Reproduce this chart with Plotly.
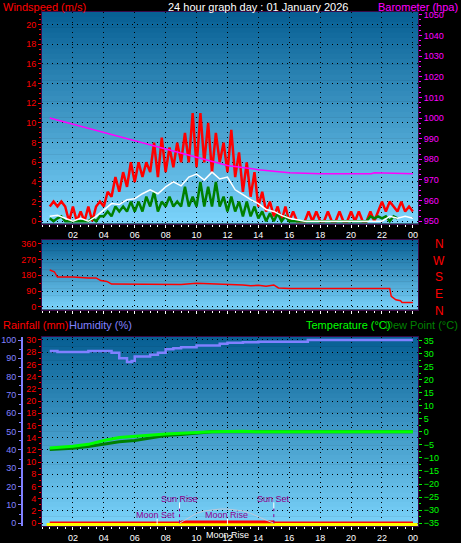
import numpy as np
import plotly.graph_objects as go

W, H = 461, 543

# ---- data ----
hour_ticks = [2, 4, 6, 8, 10, 12, 14, 16, 18, 20, 22, 24]
hour_labels = ["02", "04", "06", "08", "10", "12", "14", "16", "18", "20", "22", "00"]

gust_hours = list(np.arange(0.5, 24.01, 0.25))
gust = [1.5, 2, 1.5, 2, 1.5, 0, 1.5, 0, 1, 0, 1.5, 0, 1.5, 2,
        1.5, 3, 2.5, 4.5, 3, 5, 3.5, 6, 4, 6, 4.5, 6, 5, 8, 4.5, 8.5,
        5, 7.5, 5.5, 8, 6, 9, 6, 11, 5.5, 11, 6, 10, 5, 9, 6, 8,
        5, 9.3, 4.5, 7, 3, 6, 2.5, 5, 1.5, 3, 1, 2, 0.5, 1.5, 0, 1.5,
        0, 1, 0, 0, 0, 1, 0, 1, 0, 0, 1, 0, 0, 1, 0, 0, 1, 0, 1, 0,
        0, 1, 0, 1, 2, 1, 2, 1.5, 1, 2, 1, 1.5, 1]
wind_min = [0.3, 0, 0.3, 0.5, 0, 0, 0, 0, 0, 0, 0, 0.3, 0, 0.5,
            0.5, 1, 0.5, 1.5, 1, 1.5, 1, 2, 1, 2, 1, 2.5, 1.5, 3, 1, 2,
            1.5, 2.5, 1.5, 2, 1.5, 3.5, 1.5, 2.5, 1.5, 4, 1.5, 3.5, 1.5, 4, 1.5, 2.5,
            1, 2.5, 1, 2, 0.5, 2, 0.5, 1.5, 0.3, 1, 0, 0.8, 0, 0.8, 0, 0.5,
            0, 0, 0, 0, 0, 0, 0, 0, 0, 0, 0, 0, 0, 0, 0, 0, 0, 0, 0, 0,
            0, 0.5, 0.3, 0.5, 0.3, 0.5, 0, 0.5, 0.3]
avg_hours = [0.5, 1, 1.5, 2, 2.5, 3, 3.5, 4, 4.5, 5, 5.5, 6, 6.5, 7, 7.5, 8, 8.5, 9, 9.5, 10,
             10.5, 11, 11.5, 12, 12.5, 13, 13.5, 14, 14.5, 15, 15.5, 16,
             17, 18, 19, 20, 21, 22, 22.5, 23, 23.5, 24]
wind_avg = [0.5, 0.6, 0.3, 0, 0.3, 0, 0.5, 1.2, 1.8, 1.7, 2.2, 2.3, 2.8, 3.2, 2.8, 3.5, 4, 3.6, 4.5, 4.8,
            4.2, 5, 4.3, 4.5, 3.2, 2.7, 2.2, 1.8, 1.2, 1, 0.6, 0.3,
            0, 0, 0, 0, 0, 0, 0.5, 0.3, 0.5, 0.3]

baro_hours = [0.5, 2, 4, 6, 8, 10, 12, 14, 16, 18, 21.3, 21.5, 24]
baro = [1000, 997, 993, 989, 985, 981, 977, 975, 973.5, 973, 973, 973.5, 973]

dir_hours = [0.5, 0.8, 1, 2, 3, 3.5, 3.8, 4.2, 4.5, 5, 6, 7, 8, 9, 10, 11, 12, 13, 13.5, 14,
             14.5, 15, 15.3, 16, 20, 22.5, 22.6, 22.9, 23.2, 23.3, 24]
wind_dir = [210, 200, 170, 170, 165, 165, 150, 145, 130, 130, 128, 132, 130, 128, 135, 132, 130, 125, 120, 123,
            118, 125, 108, 105, 105, 105, 60, 40, 35, 25, 25]

hum_hours = [0.5, 1, 2, 3, 4, 4.5, 5, 5.5, 5.8, 6, 6.5, 7, 7.5, 8, 8.5, 9, 10, 11, 11.5, 12,
             13, 14, 15, 16, 17, 17.2, 18, 24]
humidity = [94, 93.5, 93.5, 94, 94, 93, 90, 88, 88.5, 91, 91, 92, 93, 95, 95.5, 96, 97, 97, 98, 98.5,
            98.8, 99, 99, 99, 99, 100, 100, 100]

temp_hours = [0.5, 1, 2, 3, 4, 5, 6, 7, 8, 9, 10, 11, 12, 13, 14, 15, 24]
temperature = [-6.2, -6, -5.5, -4.8, -3.3, -2.2, -1.7, -1.2, -0.8, -0.5, -0.2, 0, 0.1, 0.2, 0, 0, 0]
dew_point = [-6.8, -6.6, -6.3, -5.6, -4.6, -3.8, -3.3, -2.4, -1.4, -1, -0.5, 0, 0, 0, 0, 0, 0]

rain_hours = [0.5, 24]
rainfall = [0.15, 0.15]

sun_hours = [8.9, 9.5, 10, 10.5, 11, 11.5, 12, 12.5, 13, 13.5, 14, 14.5, 15]
sun_arc = [0, 0.9, 1.6, 2.0, 2.2, 2.3, 2.3, 2.2, 2.0, 1.6, 1.0, 0.5, 0]
solar_hours = [8.9, 9, 15, 15.05]
solar = [0, 0.35, 0.35, 0]

sun_rise, sun_set, moon_set, moon_rise = 8.9, 15.0, 7.45, 12.0


def fx(px):
    return px / W


def fy(px):
    return 1 - px / H


P1 = [fy(224), fy(10)]
P2 = [fy(311), fy(241)]
P3 = [fy(530), fy(339)]
XD = [fx(42), fx(418)]
XR = [0, 24.33]
FONT = "Liberation Sans"
GRID = dict(showgrid=True, gridcolor="black", griddash="1px,4px", gridwidth=1)
FRAME = "#3a0a48"

fig = go.Figure()

# gradient backgrounds
shapes = []
N = 40
top_c = np.array([8, 96, 148])
bot_c = np.array([122, 210, 250])
for dom in (P1, P2, P3):
    for i in range(N):
        c = top_c + (bot_c - top_c) * i / (N - 1)
        y1 = dom[1] - (dom[1] - dom[0]) * i / N
        y0 = dom[1] - (dom[1] - dom[0]) * (i + 1) / N
        shapes.append(dict(type="rect", xref="paper", yref="paper", x0=XD[0], x1=XD[1],
                           y0=y0, y1=y1 + 0.001, line_width=0, layer="below",
                           fillcolor="rgb(%d,%d,%d)" % tuple(c)))

# panel 1
fig.add_trace(go.Scatter(x=gust_hours, y=gust, mode="lines", line=dict(color="red", width=2.5),
                         xaxis="x", yaxis="y"))
fig.add_trace(go.Scatter(x=gust_hours, y=wind_min, mode="lines", line=dict(color="green", width=2.5),
                         xaxis="x", yaxis="y"))
fig.add_trace(go.Scatter(x=avg_hours, y=wind_avg, mode="lines", line=dict(color="white", width=1.5),
                         xaxis="x", yaxis="y"))
fig.add_trace(go.Scatter(x=baro_hours, y=baro, mode="lines", line=dict(color="magenta", width=1.5),
                         xaxis="x", yaxis="y2"))
# panel 2
fig.add_trace(go.Scatter(x=dir_hours, y=wind_dir, mode="lines", line=dict(color="red", width=1.5),
                         xaxis="x2", yaxis="y3"))
# panel 3
fig.add_trace(go.Scatter(x=[0.3, 24.3], y=[-0.3, -0.3], mode="lines",
                         line=dict(color="yellow", width=4), xaxis="x3", yaxis="y5"))
fig.add_trace(go.Scatter(x=solar_hours, y=solar, fill="tozeroy", mode="lines", fillcolor="red",
                         line=dict(color="red", width=1), xaxis="x3", yaxis="y5"))
fig.add_trace(go.Scatter(x=rain_hours, y=rainfall, mode="lines", line=dict(color="red", width=1.5),
                         xaxis="x3", yaxis="y5"))
fig.add_trace(go.Scatter(x=sun_hours, y=sun_arc, mode="lines", line=dict(color="#c0c8d8", width=1),
                         xaxis="x3", yaxis="y5"))
fig.add_trace(go.Scatter(x=hum_hours, y=humidity, mode="lines", line=dict(color="#8080ff", width=2.5, shape="hv"),
                         xaxis="x3", yaxis="y4"))
fig.add_trace(go.Scatter(x=temp_hours, y=dew_point, mode="lines", line=dict(color="#008000", width=3),
                         xaxis="x3", yaxis="y6"))
fig.add_trace(go.Scatter(x=temp_hours, y=temperature, mode="lines", line=dict(color="#00ff00", width=3),
                         xaxis="x3", yaxis="y6"))

# sun/moon markers
for h in (sun_rise, sun_set):
    shapes.append(dict(type="line", xref="x3", yref="y5", x0=h, x1=h, y0=0, y1=2.4,
                       line=dict(color="#900090", width=1, dash="dot")))
    shapes.append(dict(type="line", xref="x3", yref="y5", x0=h, x1=h, y0=2.4, y1=3.4,
                       line=dict(color="white", width=1)))
for h in (moon_set, moon_rise):
    shapes.append(dict(type="line", xref="x3", yref="y5", x0=h, x1=h, y0=-0.2, y1=0.7,
                       line=dict(color="white", width=1)))

tickfont = dict(family=FONT, size=9, color="white")
xcommon = dict(range=XR, domain=XD, tickvals=hour_ticks, ticktext=hour_labels, ticks="outside",
               ticklen=3, tickcolor="white", tickfont=tickfont, showline=True, linecolor=FRAME,
               mirror=True, zeroline=False, minor=dict(dtick=0.5, ticks="outside", ticklen=2, tickcolor="white"),
               **GRID)

ann = []


def text(x, y, s, color, size=11, xa="left", xref="paper", yref="paper"):
    ann.append(dict(x=x, y=y, xref=xref, yref=yref, text=s, showarrow=False, xanchor=xa,
                    yanchor="middle", font=dict(family=FONT, size=size, color=color)))


text(fx(1), fy(5), "Windspeed (m/s)", "red")
text(fx(258), fy(5), "24 hour graph day : 01 January 2026", "white", xa="center")
text(fx(460), fy(5), "Barometer (hpa)", "magenta", xa="right")
for lab, py in zip(["N", "W", "S", "E", "N"], [245, 262, 278, 295, 312]):
    text(fx(439), fy(py), lab, "red", size=12, xa="center")
text(fx(1), fy(327), "Rainfall (mm)", "red")
text(fx(67), fy(327), "Humidity (%)", "#8080ff")
text(fx(392), fy(327), "Temperature (°C)", "#00ff00", xa="right")
text(fx(460), fy(327), "Dew Point (°C)", "#008000", xa="right")
text(sun_rise, 4.0, "Sun Rise", "#900090", size=9, xa="center", xref="x3", yref="y5")
text(sun_set, 4.0, "Sun Set", "#900090", size=9, xa="center", xref="x3", yref="y5")
text(moon_set - 0.1, 1.3, "Moon Set", "#900090", size=9, xa="center", xref="x3", yref="y5")
text(moon_rise - 0.05, 1.3, "Moon Rise", "#900090", size=9, xa="center", xref="x3", yref="y5")
text(fx(227), fy(539), "Moon Rise", "white", size=9, xa="center")

fig.update_layout(
    width=W, height=H, margin=dict(l=0, r=0, t=0, b=0),
    paper_bgcolor="black", plot_bgcolor="rgba(0,0,0,0)", showlegend=False,
    shapes=shapes, annotations=ann,
    xaxis=dict(anchor="y", **xcommon),
    xaxis2=dict(anchor="y3", **{**xcommon, "showticklabels": False}),
    xaxis3=dict(anchor="y4", **xcommon),
    yaxis=dict(domain=P1, range=[-0.23, 21.3], dtick=2, tickfont=dict(family=FONT, size=9, color="red"),
               ticks="outside", ticklen=3, tickcolor="red", showline=True, linecolor=FRAME, mirror=True,
               zeroline=False, minor=dict(dtick=0.5, ticks="outside", ticklen=2, tickcolor="red"), **GRID),
    yaxis2=dict(overlaying="y", side="right", range=[948.9, 1051.4], dtick=10,
                tickfont=dict(family=FONT, size=9, color="magenta"), ticks="outside", ticklen=3,
                tickcolor="magenta", showgrid=False, zeroline=False,
                minor=dict(dtick=2.5, ticks="outside", ticklen=2, tickcolor="magenta")),
    yaxis3=dict(domain=P2, anchor="x2", range=[-15.2, 378.6], tickvals=[0, 90, 180, 270, 360],
                tickfont=dict(family=FONT, size=9, color="red"), ticks="outside", ticklen=3, tickcolor="red",
                showline=True, linecolor=FRAME, mirror=True, zeroline=False,
                minor=dict(dtick=45, ticks="outside", ticklen=2, tickcolor="red"), **GRID),
    yaxis4=dict(domain=P3, anchor="free", position=fx(22), range=[-1.6, 101.5], dtick=10,
                tickfont=dict(family=FONT, size=9, color="#8080ff"), ticks="outside", ticklen=3,
                tickcolor="#8080ff", showline=True, linecolor="#8080ff", linewidth=2, zeroline=False,
                showgrid=False, minor=dict(dtick=5, ticks="outside", ticklen=2, tickcolor="#8080ff")),
    yaxis5=dict(overlaying="y4", anchor="x3", range=[-0.49, 30.44], dtick=2,
                tickfont=dict(family=FONT, size=9, color="red"), ticks="outside", ticklen=3, tickcolor="red",
                showline=True, linecolor=FRAME, mirror=True, zeroline=False,
                minor=dict(dtick=1, ticks="outside", ticklen=2, tickcolor="red"), **GRID),
    yaxis6=dict(overlaying="y4", anchor="x3", side="right", range=[-36.14, 36.25], dtick=5,
                tickfont=dict(family=FONT, size=9, color="#00ff00"), ticks="outside", ticklen=3,
                tickcolor="#00ff00", showgrid=False, zeroline=False,
                minor=dict(dtick=2.5, ticks="outside", ticklen=2, tickcolor="#00ff00")),
)

fig.write_html("out.html", config={"displayModeBar": False},
               post_script="document.body.style.margin='0';document.body.style.background='black';")
